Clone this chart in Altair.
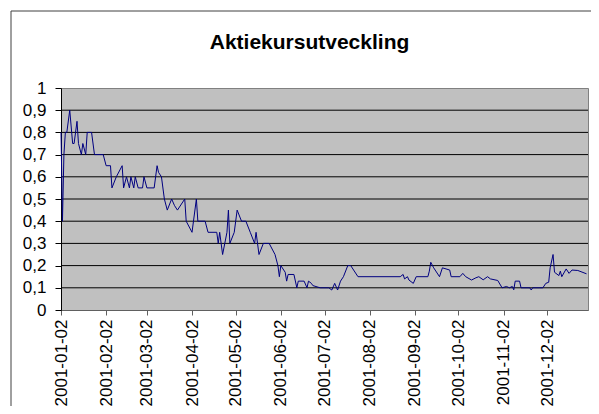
import altair as alt
import pandas as pd

# day offsets from 2001-01-02 and share price
days = [0, 1, 2, 3, 4, 6, 8, 9, 11, 12, 14, 15, 17, 18, 21, 23, 29, 31, 34, 35,
        38, 42, 43, 45, 47, 48, 50, 51, 53, 56, 57, 59, 64, 66, 67, 69, 71, 73, 76, 78,
        80, 85, 86, 90, 93, 94, 99, 101, 107, 108, 109, 111, 114, 115, 116, 119, 121, 124, 127, 130,
        133, 134, 136, 139, 143, 147, 149, 150, 151, 154, 155, 156, 160, 162, 163, 167, 169, 170, 172, 173,
        178, 184, 186, 188, 190, 192, 194, 197, 199, 204, 233, 235, 236, 238, 239, 242, 244, 252, 253, 254,
        256, 260, 262, 267, 268, 274, 276, 278, 282, 285, 287, 290, 293, 295, 300, 303, 306, 308, 310, 311,
        312, 315, 316, 322, 323, 324, 331, 333, 335, 336, 338, 339, 342, 343, 344, 347, 349, 351, 355, 361]
prices = [0.8, 0.4, 0.7, 0.8, 0.8, 0.9, 0.75, 0.75, 0.85, 0.75, 0.7, 0.75, 0.7, 0.8, 0.8, 0.7, 0.7, 0.65, 0.65, 0.55,
          0.6, 0.65, 0.55, 0.6, 0.55, 0.6, 0.55, 0.6, 0.55, 0.55, 0.6, 0.55, 0.55, 0.65, 0.62, 0.6, 0.5, 0.45, 0.5, 0.47,
          0.45, 0.5, 0.4, 0.35, 0.5, 0.4, 0.4, 0.35, 0.35, 0.3, 0.35, 0.25, 0.35, 0.45, 0.3, 0.35, 0.45, 0.4, 0.4, 0.35,
          0.3, 0.35, 0.25, 0.3, 0.3, 0.25, 0.2, 0.15, 0.2, 0.17, 0.13, 0.16, 0.16, 0.1, 0.13, 0.13, 0.1, 0.13, 0.12, 0.11,
          0.1, 0.1, 0.09, 0.12, 0.09, 0.13, 0.15, 0.2, 0.2, 0.15, 0.15, 0.16, 0.14, 0.15, 0.135, 0.12, 0.15, 0.15, 0.175, 0.215,
          0.19, 0.15, 0.19, 0.18, 0.15, 0.15, 0.165, 0.15, 0.135, 0.145, 0.15, 0.136, 0.15, 0.14, 0.133, 0.1, 0.106, 0.1, 0.106, 0.091,
          0.13, 0.13, 0.1, 0.1, 0.09, 0.1, 0.1, 0.12, 0.125, 0.19, 0.25, 0.17, 0.155, 0.175, 0.15, 0.185, 0.165, 0.18, 0.178, 0.163]

tick_labels = ["2001-01-02", "2001-02-02", "2001-03-02", "2001-04-02", "2001-05-02", "2001-06-02",
               "2001-07-02", "2001-08-02", "2001-09-02", "2001-10-02", "2001-11-02", "2001-12-02"]
y_ticks = [0, 0.1, 0.2, 0.3, 0.4, 0.5, 0.6, 0.7, 0.8, 0.9, 1]
grid_values = [0.1, 0.2, 0.3, 0.4, 0.5, 0.6, 0.7, 0.8, 0.9]
x_domain = ["2001-01-02", "2001-12-30"]

start = pd.Timestamp("2001-01-02")
dates = [(start + pd.Timedelta(days=d)).strftime("%Y-%m-%d") for d in days]
df = pd.DataFrame({"date": dates, "price": prices})


def to_dt(s):
    t = pd.Timestamp(s)
    return alt.DateTime(year=t.year, month=t.month, date=t.day, utc=True)


FONT = "Liberation Sans"
y_scale = alt.Scale(domain=[0, 1], nice=False)
x_scale = alt.Scale(type="utc", domain=[to_dt(x_domain[0]), to_dt(x_domain[1])], nice=False)

y_axis = alt.Axis(
    values=y_ticks,
    labelExpr="replace(format(datum.value, '~g'), '.', ',')",
    labelFont=FONT,
    labelFontSize=17,
    labelColor="black",
    labelPadding=9,
    tickSize=6,
    tickColor="black",
    domainColor="black",
    grid=False,
    title=None,
)

grid = alt.Chart(pd.DataFrame({"g": grid_values})).mark_rule(
    color="black", strokeWidth=1
).encode(y=alt.Y("g:Q", scale=y_scale, axis=y_axis))

line = alt.Chart(df).mark_line(color="#000080", strokeWidth=1).encode(
    x=alt.X(
        "date:T",
        scale=x_scale,
        axis=alt.Axis(
            values=[to_dt(s) for s in tick_labels],
            labelExpr="utcFormat(datum.value, '%Y-%m-%d')",
            labelAngle=270,
            labelFont=FONT,
            labelFontSize=17,
            labelColor="black",
            labelPadding=4,
            tickSize=5,
            tickColor="#606060",
            domainColor="#606060",
            grid=False,
            title=None,
            labelOverlap=False,
        ),
    ),
    y=alt.Y("price:Q", scale=y_scale, axis=y_axis),
)

frame_left = alt.Chart(pd.DataFrame({"a": [0]})).mark_rule(color="#404040").encode(
    x=alt.value(-50), y=alt.value(-77), y2=alt.value(340)
)
frame_top = alt.Chart(pd.DataFrame({"a": [0]})).mark_rule(color="#404040").encode(
    x=alt.value(-50), x2=alt.value(620), y=alt.value(-77)
)

chart = alt.layer(grid, line, frame_left, frame_top).properties(
    width=527,
    height=222,
    autosize=alt.AutoSizeParams(type="none"),
    padding={"left": 53, "top": 80, "right": 3, "bottom": 96},
    title=alt.TitleParams(
        "Aktiekursutveckling",
        font=FONT,
        fontSize=21,
        fontWeight="bold",
        color="black",
        anchor="middle",
        frame="group",
        dx=-15,
        offset=-42,
    ),
).configure(background="white").configure_view(fill="#C0C0C0", stroke="#808080")

chart.save("out.html", embed_options={"renderer": "svg", "actions": False})
